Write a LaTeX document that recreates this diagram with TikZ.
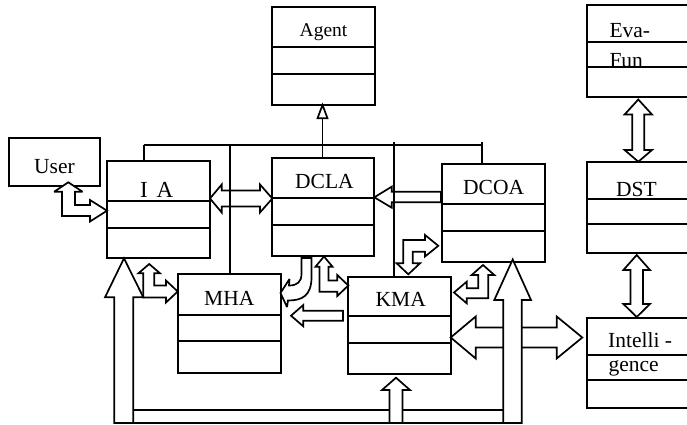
\documentclass[tikz,border=0pt]{standalone}
\usepackage{fontspec}
\setmainfont{Liberation Serif}
\newcommand\classbox[5]{% name, left, top, right, bottom
  \node[box, anchor=north west, minimum width={(#4-#2)*1pt}, minimum height={(#5-#3)*1pt}] (#1) at (#2,#3) {};}
\newcommand\divider[2]{% box name, y
  \draw[wire] (#1.west |- 0,#2) -- (#1.east |- 0,#2);}
\begin{document}
\begin{tikzpicture}[x=1pt,y=-1pt,
  wire/.style={line width=1.7pt},
  box/.style={draw, fill=white, line width=1.7pt, rectangle, inner sep=0pt, outer sep=0pt},
  blk/.style={draw, fill=white, line width=1.7pt, line join=miter, miter limit=3},
  blkopen/.style={draw, line width=1.7pt, line join=miter, miter limit=3},
  lbl/.style={inner sep=0pt, anchor=base west, font=\fontsize{21.5}{25}\selectfont},
  lblbig/.style={inner sep=0pt, anchor=base west, font=\fontsize{23}{27}\selectfont},
  lblsmall/.style={inner sep=0pt, anchor=base, font=\fontsize{19.5}{23}\selectfont}]
\useasboundingbox (0,0) rectangle (687,425);
\clip (0,0) rectangle (687,425);

% ---- bus from the agent classes ----
\coordinate (busW) at (144,145);
\coordinate (busE) at (482,145);
\coordinate (tri) at (322.5,118.3);
\draw[wire] (busW) -- (busE);

% ---- classes ----
\classbox{agent}{272}{7}{375}{105}
\classbox{evafun}{587.3}{4.7}{700}{96.7}
\classbox{user}{9.3}{138}{100}{185.7}
\classbox{ia}{107.3}{160.7}{210}{258.3}
\classbox{dcla}{272.3}{157.7}{374.3}{256}
\classbox{dcoa}{442.3}{164.3}{545}{262.3}
\classbox{dst}{586.7}{161.7}{700}{253.3}
\classbox{mha}{177.7}{274.3}{280.7}{372.7}
\classbox{kma}{348.3}{276.7}{450.7}{374.3}
\classbox{intel}{586.7}{317.7}{700}{408.3}

\divider{agent}{46.7}\divider{agent}{74}
\divider{evafun}{42.3}\divider{evafun}{67.3}
\divider{ia}{200.7}\divider{ia}{227.7}
\divider{dcla}{198.3}\divider{dcla}{225}
\divider{dcoa}{203.7}\divider{dcoa}{230.7}
\divider{dst}{199}\divider{dst}{224.3}
\divider{mha}{315}\divider{mha}{341}
\divider{kma}{316}\divider{kma}{342.7}
\divider{intel}{355}\divider{intel}{380}

% ---- bus drops to the classes ----
\draw[wire] (busW) -- (busW |- ia.north);
\draw[wire] (230,145) -- (230,145 |- mha.north);
\draw[wire] (322.5,145) -- (322.5,145 |- dcla.north);
\draw[wire] (322.5,145) -- (tri);
\draw[wire] (394,141.7) -- (394,141.7 |- kma.north);
\draw[wire] (482,141.7) -- (482,141.7 |- dcoa.north);
% generalisation head under Agent
\draw[wire, fill=white] (agent.south -| tri) -- (317.5,118.3) -- (327.5,118.3) -- cycle;

% ---- labels ----
\node[lblsmall] (agentT) at (323.5,36.7) {Agent};
\node[lbl] (evaT) at (609.3,37.3) {Eva-};
\node[lbl] (funT) at (609.3,67.3) {Fun};
\node[lbl] (userT) at (34,173.3) {User};
\node[lblbig] (iaT) at (140,197.3) {I\hspace{3pt} A};
\node[lbl] (dclaT) at (295,188.3) {DCLA};
\node[lbl] (dcoaT) at (463,194.3) {DCOA};
\node[lbl] (dstT) at (616,196) {DST};
\node[lbl] (mhaT) at (204,305) {MHA};
\node[lbl] (kmaT) at (375.5,306.7) {KMA};
\node[lbl] (intelT) at (608,347.3) {Intelli -};
\node[lbl] (genceT) at (608.3,371) {gence};

% ---- channel lines along the bottom ----
\draw[wire] (133.3,410) -- (503.3,410);
\draw[wire] (114.3,423) -- (521.7,423);

% ---- open block arrows (bus lines show through) ----
% IA <-> DCLA
\draw[blkopen] (210,198.5) -- (221.7,184.5) -- (221.7,190.5) -- (260,190.5) -- (260,184.5)
  -- (272.3,198.5) -- (260,212.5) -- (260,206.5) -- (221.7,206.5) -- (221.7,212.5) -- cycle;
% DCOA -> DCLA
\draw[blkopen] (374.3,197.3) -- (391.7,186.7) -- (391.7,191.7) -- (441,191.7) -- (441,202.3)
  -- (391.7,202.3) -- (391.7,207.7) -- cycle;

% ---- filled block arrows ----
% User <-> IA
\draw[blk] (68.3,182.3) -- (82.5,191.7) -- (75,191.7) -- (75,205) -- (90,205) -- (90,200)
  -- (107,210.7) -- (90,221.5) -- (90,216) -- (62,216) -- (62,191.7) -- (54.2,191.7) -- cycle;
% IA <-> MHA
\draw[blk] (149.2,264) -- (160,273.3) -- (154.3,273.3) -- (154.3,285.5) -- (166,285.5) -- (166,280.5)
  -- (177.7,291.5) -- (166,302.5) -- (166,297.5) -- (143.3,297.5) -- (143.3,273.3) -- (138.4,273.3) -- cycle;
% DCLA -> MHA, bent
\draw[blk] (301.5,258) -- (311.5,258) -- (311.5,277) .. controls (311.5,296) and (302,300.5) .. (288,300.5)
  -- (287,307) -- (280.5,293) -- (289.5,279) -- (289,285.5) .. controls (297,285.5) and (301.5,282) .. (301.5,274) -- cycle;
% KMA -> MHA
\draw[blk] (291,315.7) -- (303.3,305) -- (303.3,310.7) -- (343,310.7) -- (343,320.7)
  -- (303.3,320.7) -- (303.3,326.3) -- cycle;
% DCLA <-> KMA
\draw[blk] (324,256.5) -- (332.5,266.7) -- (328.5,266.7) -- (328.5,280.5) -- (337.3,280.5) -- (337.3,275)
  -- (348.3,285.5) -- (337.3,296) -- (337.3,291.7) -- (319.5,291.7) -- (319.5,266.7) -- (315.5,266.7) -- cycle;
% KMA <-> DCOA (above KMA)
\draw[blk] (408.3,274.3) -- (420,263.3) -- (412.7,263.3) -- (412.7,251.7) -- (425,251.7) -- (425,256.5)
  -- (438.3,245.8) -- (425,235) -- (425,240) -- (403.3,240) -- (403.3,263.3) -- (396.7,263.3) -- cycle;
% DCOA <-> KMA (below DCOA)
\draw[blk] (483,265) -- (494.3,275) -- (488.3,275) -- (488.3,298.3) -- (466.7,298.3) -- (466.7,303.3)
  -- (454,292.5) -- (466.7,281.7) -- (466.7,288.3) -- (478.3,288.3) -- (478.3,275) -- (471.7,275) -- cycle;
% KMA <-> Intelligence
\draw[blk] (450.7,337.5) -- (475.7,316.5) -- (475.7,327.5) -- (556.7,327.5) -- (556.7,316.5)
  -- (582.3,337.5) -- (556.7,358.5) -- (556.7,347.5) -- (475.7,347.5) -- (475.7,358.5) -- cycle;
% Eva-Fun <-> DST
\draw[blk] (638.3,99.5) -- (652,114.5) -- (644.3,114.5) -- (644.3,150) -- (652,150) -- (638.3,161.7)
  -- (624.6,150) -- (632.3,150) -- (632.3,114.5) -- (624.6,114.5) -- cycle;
% DST <-> Intelligence
\draw[blk] (636.7,255) -- (650,270) -- (643,270) -- (643,304) -- (650,304) -- (636.7,317)
  -- (623.4,304) -- (630.4,304) -- (630.4,270) -- (623.4,270) -- cycle;

% ---- feedback channel up to IA, KMA and DCOA ----
\draw[blk] (124,258.3) -- (143.3,297.3) -- (133.3,297.3) -- (133.3,423) -- (114.3,423)
  -- (114.3,297.3) -- (105,297.3) -- cycle;
\draw[blk] (512.7,259.5) -- (531,300) -- (521.7,300) -- (521.7,423) -- (503.3,423)
  -- (503.3,300) -- (494.3,300) -- cycle;
\draw[blk] (396,377.7) -- (410,390) -- (402.5,390) -- (402.5,423) -- (389.5,423)
  -- (389.5,390) -- (382,390) -- cycle;
\end{tikzpicture}
\end{document}
